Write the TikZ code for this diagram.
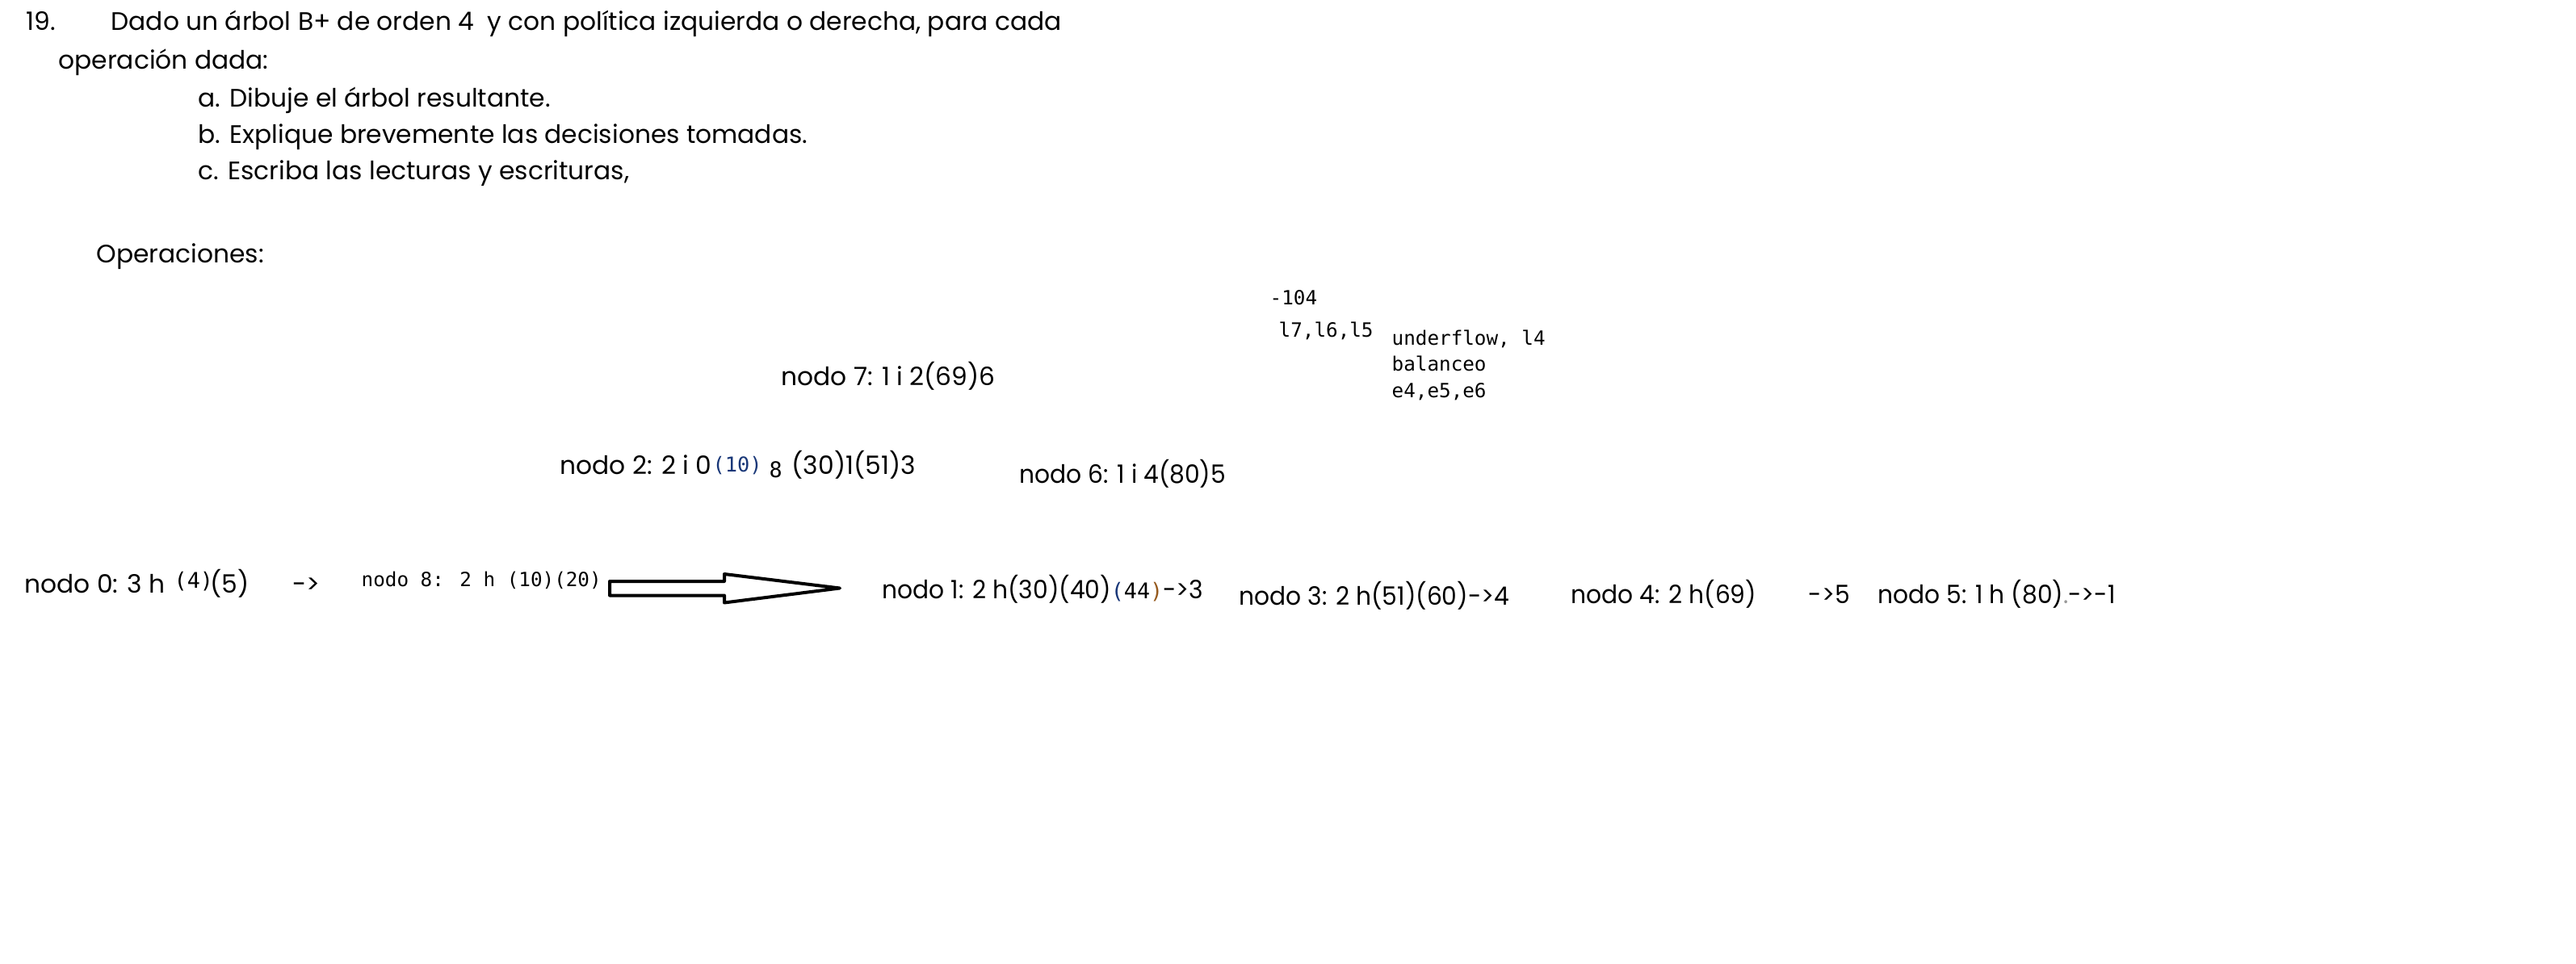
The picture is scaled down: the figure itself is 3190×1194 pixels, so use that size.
\documentclass[tikz,border=0pt]{standalone}
\usepackage{fontspec}
\setmainfont{Poppins}
\newfontfamily\mono{DejaVu Sans Mono}
\newfontfamily\estrecha[FakeStretch=0.95]{Poppins}
\usetikzlibrary{positioning}

\definecolor{azul}{RGB}{25,55,120}
\definecolor{marron}{RGB}{150,90,30}
\newcommand{\gothic}{\fontsize{8.9pt}{10pt}\selectfont}
\newcommand{\codigo}{\mono\fontsize{6.9pt}{8pt}\selectfont}

\begin{document}
\begin{tikzpicture}[x=0.01cm, y=-0.01cm,
    txt/.style={anchor=base west, inner sep=0pt, font=\gothic},
    hoja/.style={txt, font=\estrecha\gothic},
    cod/.style={anchor=base west, inner sep=0pt, font=\codigo}]
\useasboundingbox[fill=white] (0,0) rectangle (3190,1194);

% Enunciado
\node[txt] (num) at (32,38) {19.};
\node[txt] (enun) at (137,38) {Dado un árbol B+ de orden 4\ \ y con política izquierda o derecha, para cada};
\node[txt] (opdada) at (72,86) {operación dada:};
\foreach \n/\y/\t in {a/133/{a. Dibuje el árbol resultante.}, b/178/{b. Explique brevemente las decisiones tomadas.}, c/222/{c. Escriba las lecturas y escrituras,}}
    \node[txt] (item\n) at (245,\y) {\t};
\node[txt] (ops) at (119,326) {Operaciones:};

% Notas de la baja
\node[cod] (baja) at (1572,377) {-104};
\node[cod] (lect) at (1583,417) {l7,l6,l5};
\foreach \t/\y [count=\i] in {{underflow, l4}/427, balanceo/459, {e4,e5,e6}/492}
    \node[cod] (nota\i) at (1723,\y) {\t};

% Nodos internos
\node[txt] (n7) at (967,477) {nodo 7: 1 i 2(69)6};
\node[txt] (n2) at (693,587) {nodo 2: 2 i 0};
\node[cod, text=azul, font=\mono\fontsize{7.2pt}{9pt}\selectfont] (n2a) at (882,584) {(10)};
\node[cod, font=\mono\fontsize{7.6pt}{9pt}\selectfont] (n2b) at (952,591) {8};
\node[txt] (n2c) at (980,587) {(30)1(51)3};
\node[hoja] (n6) at (1262,598) {nodo 6: 1 i 4(80)5};

% Hojas
\node[txt] (n0) at (30,734) {nodo 0: 3 h};
\node[cod, font=\mono\fontsize{7.6pt}{9pt}\selectfont] (n0a) at (215,728) {(4)};
\node[txt] (n0b) at (260,734) {(5)};
\node[txt] (sig) at (362,734) {->};
\node[cod] (n8) at (447,726) {nodo 8: 2 h (10)(20)};
\node[hoja] (n1) at (1092,741) {nodo 1: 2 h(30)(40){\mono\fontsize{7.6pt}{9pt}\selectfont\textcolor{azul}{(}44\textcolor{marron}{)}}->3};
\node[hoja] (n3) at (1534,749) {nodo 3: 2 h(51)(60)->4};
\node[hoja] (n4) at (1945,747) {nodo 4: 2 h(69)};
\node[hoja] (n4s) at (2239,747) {->5};
\node[hoja] (n5) at (2325,747) {nodo 5: 1 h (80)\textcolor{black!40}{.}->-1};

% Flecha
\coordinate (fa) at (755,728.5);
\draw[line width=0.04cm, line join=round] (fa) -- ++(0,-8.5) -- ++(142,0) -- ++(0,-9)
    -- ++(143,17.5) -- ++(-143,18) -- ++(0,-9) -- ++(-142,0) -- cycle;
\end{tikzpicture}
\end{document}
